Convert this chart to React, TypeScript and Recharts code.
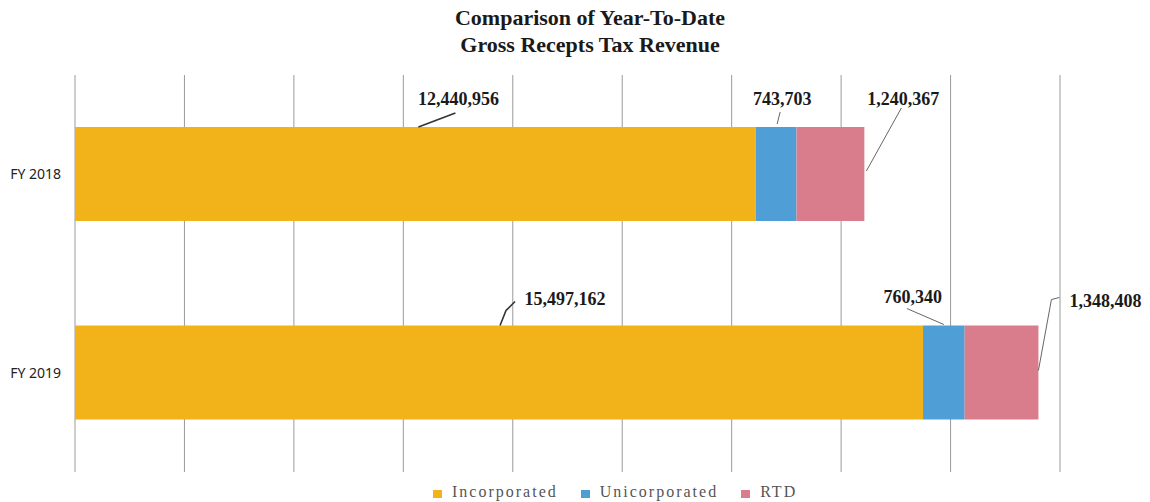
import { Bar, BarChart, CartesianGrid, LabelList, Legend, XAxis, YAxis } from 'recharts';

// Year-to-date gross receipts tax, stacked by source
const categories = ['FY 2018', 'FY 2019'];
const incorporated = [12440956, 15497162];
const unincorporated = [743703, 760340];
const rtd = [1240367, 1348408];
const xTicks = [0, 2000000, 4000000, 6000000, 8000000, 10000000, 12000000, 14000000, 16000000, 18000000];
const frameTicks = [0, 1, 2];

const series = [
  { key: 'inc', name: 'Incorporated', color: '#F1B319', values: incorporated },
  { key: 'uni', name: 'Unicorporated', color: '#4F9ED6', values: unincorporated },
  { key: 'rtd', name: 'RTD', color: '#D97C8C', values: rtd },
];

const data = categories.map((c, i) => ({
  cat: c,
  inc: incorporated[i],
  uni: unincorporated[i],
  rtd: rtd[i],
}));

type Geo = { x: number; y: number; w: number; h: number };
type Leader = { pts: number[][]; tx: number; ty: number; anchor: 'start' | 'middle' | 'end' };

// leader line + label placement relative to each bar segment
const leaders: Record<string, (g: Geo) => Leader> = {
  'inc-0': (g) => {
    const cx = g.x + g.w / 2;
    return { pts: [[cx + 3, g.y], [cx + 40, g.y - 14]], tx: cx + 43, ty: g.y - 22, anchor: 'middle' };
  },
  'uni-0': (g) => {
    const cx = g.x + g.w / 2;
    return { pts: [[cx + 1, g.y - 3], [cx + 4, g.y - 15]], tx: cx + 6, ty: g.y - 22, anchor: 'middle' };
  },
  'rtd-0': (g) => {
    const r = g.x + g.w;
    return { pts: [[r + 2, g.y + 44], [r + 37, g.y - 19]], tx: r + 39, ty: g.y - 22, anchor: 'middle' };
  },
  'inc-1': (g) => {
    const cx = g.x + g.w / 2;
    return { pts: [[cx + 1, g.y], [cx + 7, g.y - 15], [cx + 16, g.y - 24]], tx: cx + 66, ty: g.y - 21, anchor: 'middle' };
  },
  'uni-1': (g) => {
    const cx = g.x + g.w / 2;
    return { pts: [[cx, g.y - 1], [cx - 37, g.y - 17]], tx: cx - 31, ty: g.y - 23, anchor: 'middle' };
  },
  'rtd-1': (g) => {
    const r = g.x + g.w;
    return { pts: [[r, g.y + 45], [r + 13, g.y - 26], [r + 21, g.y - 28]], tx: r + 31, ty: g.y - 19, anchor: 'start' };
  },
};

const fmt = (v: number) => v.toLocaleString('en-US');

const makeLabel = (key: string, values: number[]) => (props: any) => {
  const vb = props.viewBox && props.viewBox.width != null ? props.viewBox : props;
  const g = { x: Number(vb.x), y: Number(vb.y), w: Number(vb.width), h: Number(vb.height) };
  const idx = Number(props.index);
  const f = leaders[`${key}-${idx}`];
  if (!f || !Number.isFinite(g.x)) return null;
  const l = f(g);
  return (
    <g>
      <polyline
        points={l.pts.map((p) => p.join(',')).join(' ')}
        fill="none"
        stroke={key === 'inc' ? '#333' : '#666'}
        strokeWidth={key === 'inc' ? 1.6 : 1}
      />
      <text
        x={l.tx}
        y={l.ty}
        textAnchor={l.anchor}
        fontFamily="'Liberation Serif', serif"
        fontWeight="bold"
        fontSize={18}
        fill="#1a1a1a"
      >
        {fmt(values[idx])}
      </text>
    </g>
  );
};

const NoTick = () => <g />;

const LegendContent = () => (
  <div style={{ display: 'flex', alignItems: 'center', height: 20 }}>
    {series.map((s, i) => (
      <div key={s.key} style={{ display: 'flex', alignItems: 'center', marginLeft: i === 0 ? 0 : 23 }}>
        <span style={{ width: 9, height: 8, background: s.color, display: 'inline-block', marginRight: 10, marginTop: 4 }} />
        <span
          style={{
            fontFamily: "'Liberation Serif', serif",
            fontSize: 16,
            letterSpacing: 2,
            color: '#555',
          }}
        >
          {s.name}
        </span>
      </div>
    ))}
  </div>
);

export default function App() {
  return (
    <div style={{ position: 'absolute', left: 0, top: 0, width: 1150, height: 502, background: '#fff' }}>
      <div
        style={{
          position: 'absolute',
          top: 4,
          left: 0,
          width: 1180,
          textAlign: 'center',
          fontFamily: "'Liberation Serif', serif",
          fontWeight: 'bold',
          fontSize: 22,
          lineHeight: '27px',
          color: '#1a1a1a',
        }}
      >
        Comparison of Year-To-Date
        <br />
        Gross Recepts Tax Revenue
      </div>
      <BarChart
        width={1150}
        height={502}
        data={data}
        layout="vertical"
        margin={{ top: 75, right: 90, bottom: 30, left: 0 }}
        barSize={94}
      >
        <CartesianGrid yAxisId="cat" vertical horizontal={false} stroke="#9a9a9a" strokeWidth={1} />
        <XAxis
          type="number"
          domain={[0, 18000000]}
          ticks={xTicks}
          tick={NoTick}
          tickLine={false}
          axisLine={false}
          height={0}
        />
        <YAxis
          yAxisId="frame"
          type="number"
          domain={[0, 2]}
          ticks={frameTicks}
          tick={NoTick}
          tickSize={5}
          width={0}
          axisLine={{ stroke: '#888' }}
          tickLine={{ stroke: '#333' }}
        />
        <YAxis
          yAxisId="cat"
          type="category"
          dataKey="cat"
          width={75}
          axisLine={false}
          tickLine={false}
          tickSize={0}
          tickMargin={14}
          tick={{ fill: '#222', fontSize: 14, fontFamily: "'Noto Sans', sans-serif" }}
        />
        {series.map((s) => (
          <Bar
            key={s.key}
            yAxisId="cat"
            dataKey={s.key}
            name={s.name}
            stackId="a"
            fill={s.color}
            isAnimationActive={false}
          >
            <LabelList dataKey={s.key} content={makeLabel(s.key, s.values)} />
          </Bar>
        ))}
        <Legend
          layout="horizontal"
          verticalAlign="middle"
          align="center"
          wrapperStyle={{ top: 482, left: 433, width: 440 }}
          content={<LegendContent />}
        />
      </BarChart>
    </div>
  );
}
